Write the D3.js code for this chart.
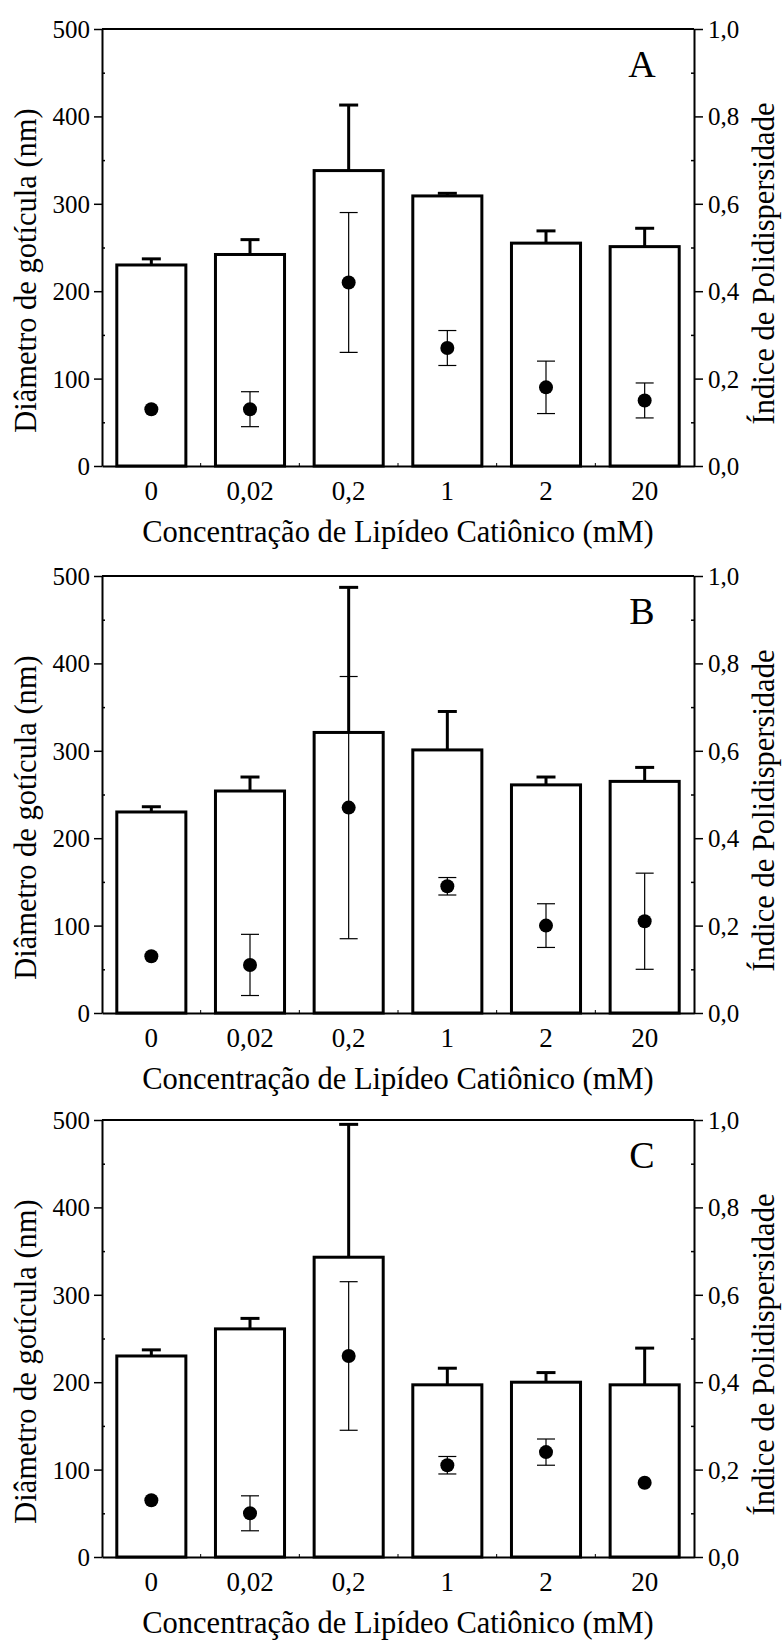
<!DOCTYPE html>
<html>
<head>
<meta charset="utf-8">
<script src="https://cdn.jsdelivr.net/npm/d3@7"></script>
<style>
  body { margin: 0; background: #fff; }
</style>
</head>
<body>
<div id="chart"></div>
<script>
// concentrations of cationic lipid (mM)
var categories = ["0", "0,02", "0,2", "1", "2", "20"];
var panelLabels = ["A", "B", "C"];

// droplet diameter (nm), bars + upper error
var diameterA = [230, 242, 338, 309, 255, 251];
var diameterErrA = [7, 17, 75, 3, 14, 21];
var diameterB = [230, 254, 321, 301, 261, 265];
var diameterErrB = [6, 16, 166, 44, 9, 16];
var diameterC = [230, 261, 343, 197, 200, 197];
var diameterErrC = [7, 12, 152, 19, 11, 42];

// polydispersity index, points + symmetric error
var pdiA = [0.13, 0.13, 0.42, 0.27, 0.18, 0.15];
var pdiErrA = [0, 0.04, 0.16, 0.04, 0.06, 0.04];
var pdiB = [0.13, 0.11, 0.47, 0.29, 0.20, 0.21];
var pdiErrB = [0, 0.07, 0.30, 0.02, 0.05, 0.11];
var pdiC = [0.13, 0.10, 0.46, 0.21, 0.24, 0.17];
var pdiErrC = [0, 0.04, 0.17, 0.02, 0.03, 0];

var leftTicks = [0, 100, 200, 300, 400, 500];
var leftMinor = [50, 150, 250, 350, 450];
var rightTicks = [0, 0.2, 0.4, 0.6, 0.8, 1.0];
var rightMinor = [0.1, 0.3, 0.5, 0.7, 0.9];

var W = 782, H = 1642;
var margin = {left: 102, right: 88},
    width = W - margin.left - margin.right,
    height = 437;
var panelTops = [29, 576, 1120];
var FONT = "'Liberation Serif', 'Times New Roman', serif";

var svg = d3.select("#chart").append("svg")
    .attr("width", W)
    .attr("height", H)
    .attr("font-family", FONT);

var fmt = function(d) { return d3.format(".1f")(d).replace(".", ","); };

function drawPanel(top, label, bars, barErr, pdi, pdiErr) {
    var g = svg.append("g").attr("transform", "translate(" + margin.left + "," + top + ")");

    var x = d3.scaleBand().domain(categories).range([0, width])
        .paddingInner(0.3).paddingOuter(0.15);
    var y = d3.scaleLinear().domain([0, 500]).range([height, 0]);
    var y2 = d3.scaleLinear().domain([0, 1]).range([height, 0]);

    // bars
    g.selectAll("rect.bar").data(bars).enter().append("rect")
        .attr("class", "bar")
        .attr("x", function(d, i) { return x(categories[i]); })
        .attr("y", function(d) { return y(d); })
        .attr("width", x.bandwidth())
        .attr("height", function(d) { return height - y(d); })
        .attr("fill", "#fff")
        .attr("stroke", "#000")
        .attr("stroke-width", 3);

    // bar error (upper only)
    var cx = function(i) { return x(categories[i]) + x.bandwidth() / 2; };
    bars.forEach(function(d, i) {
        if (!barErr[i]) return;
        g.append("line")
            .attr("x1", cx(i)).attr("x2", cx(i))
            .attr("y1", y(d)).attr("y2", y(d + barErr[i]))
            .attr("stroke", "#000").attr("stroke-width", 3);
        g.append("line")
            .attr("x1", cx(i) - 9.5).attr("x2", cx(i) + 9.5)
            .attr("y1", y(d + barErr[i])).attr("y2", y(d + barErr[i]))
            .attr("stroke", "#000").attr("stroke-width", 3);
    });

    // pdi error
    pdi.forEach(function(d, i) {
        var e = pdiErr[i];
        if (!e) return;
        g.append("line")
            .attr("x1", cx(i)).attr("x2", cx(i))
            .attr("y1", y2(d - e)).attr("y2", y2(d + e))
            .attr("stroke", "#000").attr("stroke-width", 1.2);
        [d - e, d + e].forEach(function(v) {
            g.append("line")
                .attr("x1", cx(i) - 9).attr("x2", cx(i) + 9)
                .attr("y1", y2(v)).attr("y2", y2(v))
                .attr("stroke", "#000").attr("stroke-width", 1.2);
        });
    });

    g.selectAll("circle").data(pdi).enter().append("circle")
        .attr("cx", function(d, i) { return cx(i); })
        .attr("cy", function(d) { return y2(d); })
        .attr("r", 7)
        .attr("fill", "#000");

    // axes
    var left = g.append("g")
        .call(d3.axisLeft(y).tickValues(leftTicks).tickSize(8).tickSizeOuter(0).tickPadding(4));
    left.selectAll("text").style("font-size", "25px").attr("dy", "0.34em");
    g.append("g")
        .call(d3.axisLeft(y).tickValues(leftMinor).tickSize(-3).tickFormat(""))
        .select(".domain").remove();

    var right = g.append("g").attr("transform", "translate(" + width + ",0)")
        .call(d3.axisRight(y2).tickValues(rightTicks).tickFormat(fmt).tickSize(9).tickSizeOuter(0).tickPadding(5));
    right.selectAll("text").style("font-size", "25px").attr("dy", "0.34em");
    g.append("g").attr("transform", "translate(" + width + ",0)")
        .call(d3.axisRight(y2).tickValues(rightMinor).tickSize(-3).tickFormat(""))
        .select(".domain").remove();

    var bottom = g.append("g").attr("transform", "translate(0," + height + ")")
        .call(d3.axisBottom(x).tickSize(0).tickSizeOuter(0).tickPadding(15));
    bottom.selectAll("text").style("font-size", "27px");

    // small inward marks between categories
    var bounds = categories.slice(1).map(function(c) { return x(c) - x.step() * x.paddingInner() / 2; });
    g.selectAll("line.sep").data(bounds).enter().append("line")
        .attr("class", "sep")
        .attr("x1", function(d) { return d; }).attr("x2", function(d) { return d; })
        .attr("y1", height).attr("y2", height - 3)
        .attr("stroke", "#000").attr("stroke-width", 1);

    g.selectAll(".domain").attr("stroke-width", 2);
    g.selectAll(".tick line").attr("stroke-width", 1.5);

    // top border
    g.append("line")
        .attr("x1", 0).attr("x2", width).attr("y1", 0).attr("y2", 0)
        .attr("stroke", "#000").attr("stroke-width", 2);

    // titles
    g.append("text")
        .attr("transform", "translate(" + (36 - margin.left) + "," + (height / 2 + 23) + ") rotate(-90)")
        .attr("text-anchor", "middle")
        .style("font-size", "30.5px")
        .text("Diâmetro de gotícula (nm)");
    g.append("text")
        .attr("transform", "translate(" + (width + 80) + "," + (height / 2 + 16) + ") rotate(-90)")
        .attr("text-anchor", "middle")
        .style("font-size", "30.5px")
        .text("Índice de Polidispersidade");
    g.append("text")
        .attr("x", width / 2).attr("y", height + 76)
        .attr("text-anchor", "middle")
        .style("font-size", "30.5px")
        .text("Concentração de Lipídeo Catiônico (mM)");
    g.append("text")
        .attr("x", 540).attr("y", 48)
        .attr("text-anchor", "middle")
        .style("font-size", "38px")
        .text(label);

    g.selectAll("text").style("font-family", FONT).attr("fill", "#000");
}

drawPanel(panelTops[0], panelLabels[0], diameterA, diameterErrA, pdiA, pdiErrA);
drawPanel(panelTops[1], panelLabels[1], diameterB, diameterErrB, pdiB, pdiErrB);
drawPanel(panelTops[2], panelLabels[2], diameterC, diameterErrC, pdiC, pdiErrC);
</script>
</body>
</html>
